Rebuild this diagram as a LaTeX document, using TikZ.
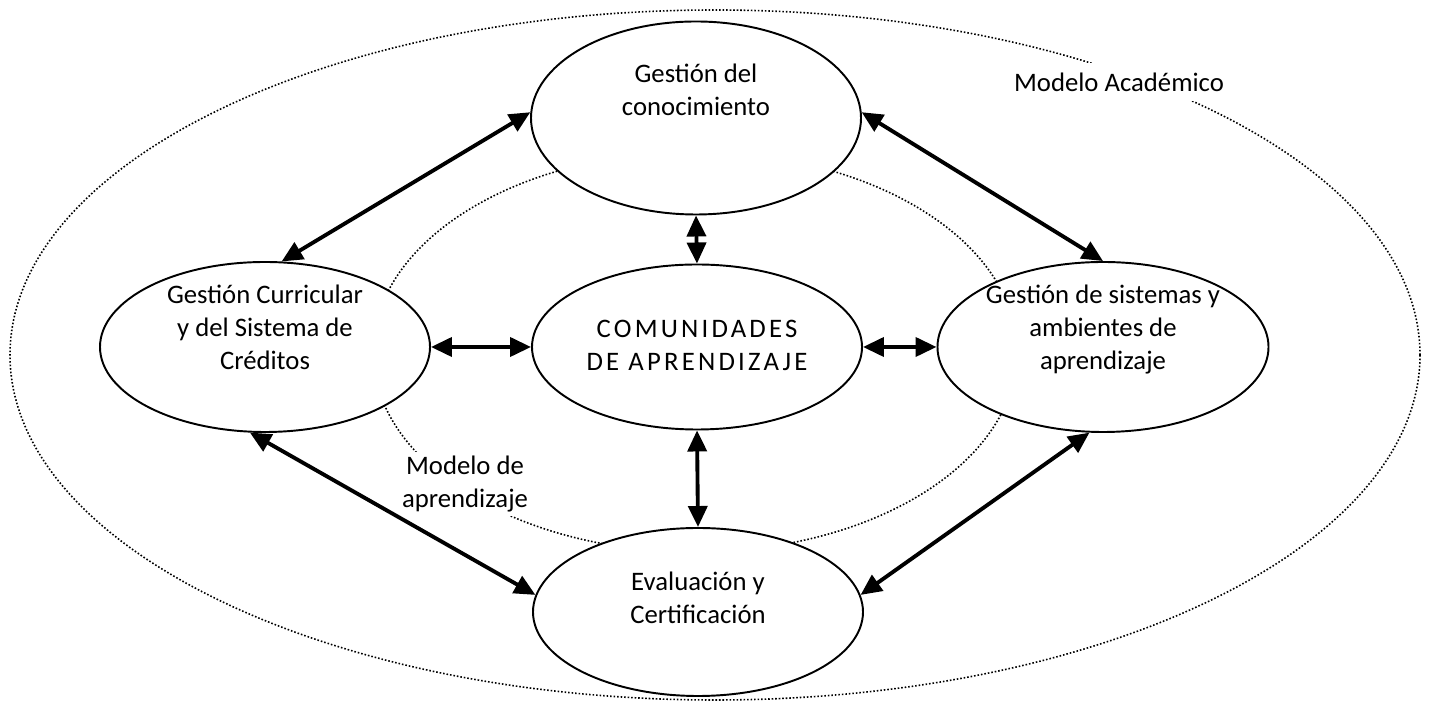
\documentclass[tikz,border=0pt]{standalone}
\usepackage{fontspec}
\setmainfont{Carlito}
\usetikzlibrary{shapes.geometric,arrows.meta}
\newcommand{\texto}[2]{\raisebox{#1}[0pt][0pt]{\begin{tabular}{@{}c@{}}#2\end{tabular}}}
\tikzset{
  area/.style={line width=0.9pt, dash pattern=on 0.9pt off 1.1pt},
  campo/.style={ellipse, draw, line width=1.1pt, fill=white, inner sep=0pt,
    minimum width=6.6cm, minimum height=3.4cm},
  flecha/.style={{Triangle[length=0.42cm,width=0.38cm]}-{Triangle[length=0.42cm,width=0.38cm]}, line width=2.2pt},
  rotulo/.style={fill=white, align=center, inner sep=2pt}
}

\begin{document}
\begin{tikzpicture}[font=\fontsize{15.2}{18.7}\selectfont]
\useasboundingbox (0,0) rectangle (28.66,14.12);
\draw[area] (14.30,7.02) ellipse [x radius=14.10, y radius=6.90];
\draw[area] (13.90,7.08) ellipse [x radius=6.44, y radius=4.00];
\node[rotulo, inner sep=0.2cm] (acad) at (22.38,12.48) {Modelo Académico};
\node[rotulo] (aprend) at (9.30,4.44) {Modelo de\\aprendizaje};
\node[campo, minimum height=3.86cm] (top) at (13.92,11.76) {\texto{0.39cm}{Gestión del\\conocimiento}};
\node[campo, minimum height=3.3cm] (com) at (13.94,7.18) {\addfontfeature{LetterSpace=12}\texto{-0.13cm}{COMUNIDADES\\DE APRENDIZAJE}};
\node[campo] (cur) at (5.30,7.18) {\texto{0.21cm}{Gestión Curricular\\y del Sistema de\\Créditos}};
\node[campo] (sis) at (22.06,7.18) {\texto{0.21cm}{Gestión de sistemas y\\ambientes de\\aprendizaje}};
\node[campo, minimum height=3.36cm] (eva) at (13.96,1.88) {\texto{0.11cm}{Evaluación y\\Certificación}};
\draw[flecha] (cur.79) -- (top.178);
\draw[flecha] (top.2) -- (sis.90);
\draw[flecha] (cur.east) -- (com.west);
\draw[flecha] (com.east) -- (sis.west);
\draw[flecha] (top.south) -- (com.north);
\draw[flecha] (com.south) -- (eva.north);
\draw[flecha] (cur.260) -- (eva.174);
\draw[flecha] (eva.6) -- (sis.261);
\end{tikzpicture}
\end{document}
